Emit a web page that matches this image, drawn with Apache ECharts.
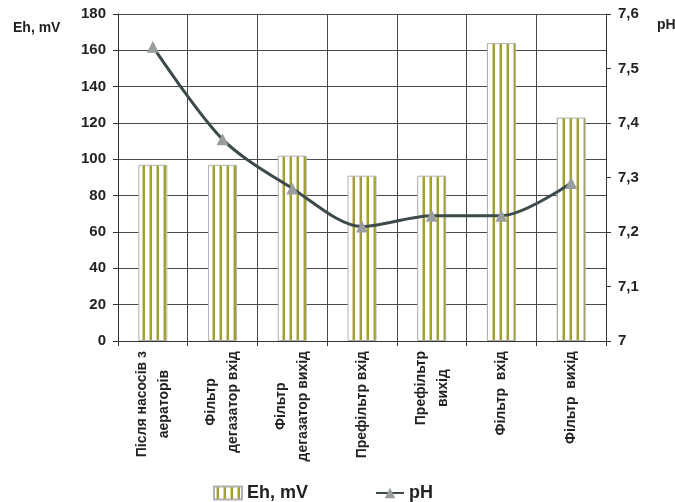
<!DOCTYPE html>
<html>
<head>
<meta charset="utf-8">
<script src="https://cdn.jsdelivr.net/npm/echarts@6/dist/echarts.min.js"></script>
<style>
  html, body { margin: 0; padding: 0; background: #fff; }
  #chart { width: 675px; height: 502px; }
</style>
</head>
<body>
<div id="chart"></div>
<script>
// Sampling points along the water treatment line
const categories = [
  'Після насосів з\nаераторів',
  'Фільтр\nдегазатор вхід',
  'Фільтр\nдегазатор вихід',
  'Префільтр вхід',
  'Префільтр\nвихід',
  'Фільтр  вхід',
  'Фільтр  вихід'
];

// Redox potential, mV
const ehValues = [97, 97, 102, 91, 91, 164, 123];

// pH
const phValues = [7.54, 7.37, 7.28, 7.21, 7.23, 7.23, 7.29];

const ehTicks = { min: 0, max: 180, interval: 20 };
const phTicks = { min: 7, max: 7.6, interval: 0.1 };

// Vertical olive stripes on white for the bars
function stripePattern() {
  const c = document.createElement('canvas');
  c.width = 7;
  c.height = 4;
  const g = c.getContext('2d');
  g.fillStyle = '#ffffff';
  g.fillRect(0, 0, 7, 4);
  g.fillStyle = '#d4d490';
  g.fillRect(2, 0, 1, 4);
  g.fillStyle = '#a0a032';
  g.fillRect(3, 0, 2, 4);
  return c;
}

const FONT = 'Liberation Sans, Arial, sans-serif';
const GRID_COLOR = '#4a4a4a';

const chart = echarts.init(document.getElementById('chart'), null, { renderer: 'canvas' });

chart.setOption({
  backgroundColor: '#ffffff',
  animation: false,
  textStyle: { fontFamily: FONT },
  grid: {
    left: 118, right: 69, top: 14, bottom: 161,
    containLabel: false,
    outerBoundsMode: 'none'
  },
  legend: {
    left: 213,
    top: 484,
    padding: 0,
    itemWidth: 28,
    itemHeight: 13,
    itemGap: 67,
    textStyle: { fontSize: 18, fontWeight: 'bold', color: '#222', fontFamily: FONT },
    data: [{ name: 'Eh, mV', icon: 'rect' }, 'pH']
  },
  xAxis: {
    type: 'category',
    data: categories,
    boundaryGap: true,
    axisLine: { lineStyle: { color: '#333', width: 1 } },
    axisTick: { show: true, length: 5, lineStyle: { color: '#333' } },
    splitLine: { show: true, lineStyle: { color: GRID_COLOR, width: 1 } },
    axisLabel: {
      rotate: 90,
      margin: 10,
      interval: 0,
      color: '#222',
      formatter: v => v.split('\n').map(s => '{c|' + s + '}').join('\n'),
      rich: {
        c: {
          align: 'center',
          fontSize: 14,
          fontWeight: 'bold',
          fontFamily: FONT,
          color: '#222',
          lineHeight: 22
        }
      }
    }
  },
  yAxis: [
    {
      type: 'value',
      name: 'Eh, mV',
      nameLocation: 'end',
      nameGap: -14,
      nameTextStyle: {
        fontSize: 14, fontWeight: 'bold', color: '#222', fontFamily: FONT,
        align: 'left', verticalAlign: 'middle', padding: [0, 0, 0, -105]
      },
      min: ehTicks.min,
      max: ehTicks.max,
      interval: ehTicks.interval,
      axisLine: { show: true, lineStyle: { color: '#333' } },
      axisTick: { show: true, length: 5, lineStyle: { color: '#333' } },
      splitLine: { show: true, lineStyle: { color: GRID_COLOR, width: 1 } },
      axisLabel: { fontSize: 15, fontWeight: 'bold', color: '#222', margin: 12, fontFamily: FONT }
    },
    {
      type: 'value',
      name: 'pH',
      nameLocation: 'end',
      nameGap: -11,
      nameTextStyle: {
        fontSize: 14, fontWeight: 'bold', color: '#222', fontFamily: FONT,
        align: 'left', verticalAlign: 'middle', padding: [0, 0, 0, 51]
      },
      position: 'right',
      min: phTicks.min,
      max: phTicks.max,
      interval: phTicks.interval,
      axisLine: { show: true, lineStyle: { color: '#333' } },
      axisTick: { show: true, length: 5, lineStyle: { color: '#333' } },
      splitLine: { show: false },
      axisLabel: {
        fontSize: 15, fontWeight: 'bold', color: '#222', margin: 12, fontFamily: FONT,
        formatter: v => String(Math.round(v * 10) / 10).replace('.', ',')
      }
    }
  ],
  series: [
    {
      name: 'Eh, mV',
      type: 'bar',
      yAxisIndex: 0,
      data: ehValues,
      barWidth: 29,
      itemStyle: {
        color: { image: stripePattern(), repeat: 'repeat' },
        borderColor: '#b0b0b0',
        borderWidth: 1
      },
      z: 2
    },
    {
      name: 'pH',
      type: 'line',
      yAxisIndex: 1,
      data: phValues,
      smooth: 0.3,
      symbol: 'triangle',
      symbolSize: 12,
      lineStyle: { color: '#3d4a4c', width: 3 },
      itemStyle: { color: '#9a9c9e' },
      z: 3
    }
  ]
});
</script>
</body>
</html>
